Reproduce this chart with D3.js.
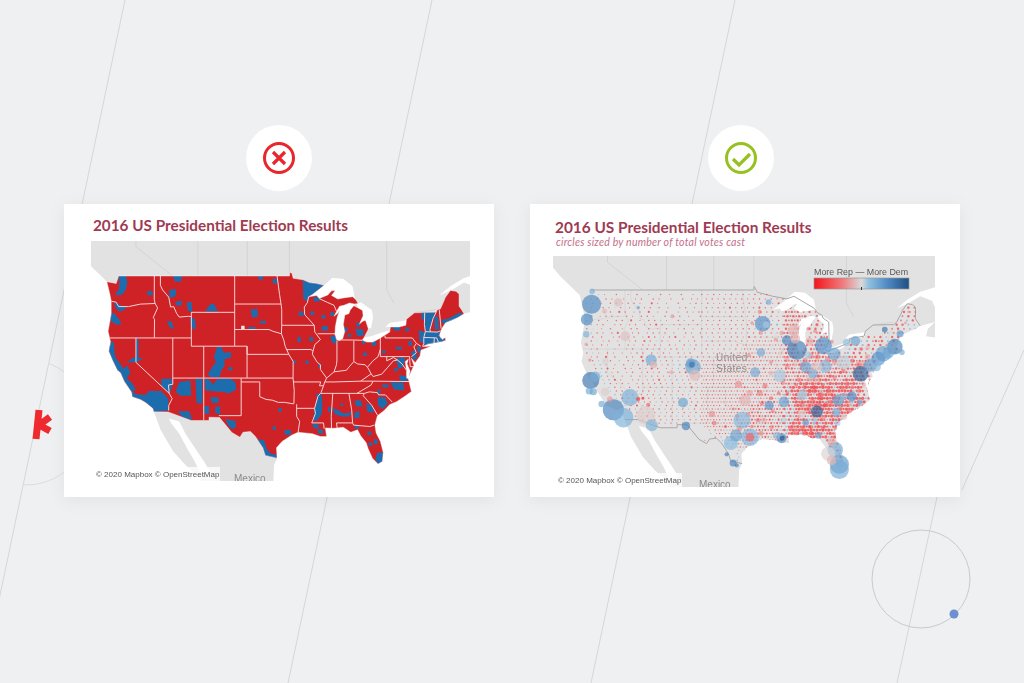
<!DOCTYPE html>
<html>
<head>
<meta charset="utf-8">
<title>2016 US Presidential Election Results</title>
<script src="https://cdn.jsdelivr.net/npm/d3@7"></script>
<style>
  html, body { margin: 0; padding: 0; background: #eff0f2; }
  svg { display: block; }
</style>
</head>
<body>
<script>
// ---- text ----
var chartTitle = "2016 US Presidential Election Results";
var chartSubtitle = "circles sized by number of total votes cast";
var attribution = "\u00a9 2020 Mapbox \u00a9 OpenStreetMap";
var legendLabel = "More Rep \u2014 More Dem";

// ---- coastlines and borders, lon/lat ----
var northBorder = [[-124.7,48.4],[-123.2,48.2],[-122.8,49],[-95.2,49],[-95.15,49.4],[-94.8,49.3],[-94.6,48.75],[-93,48.6],[-92,48.3],[-90.8,48.2],[-89.6,48],[-91.5,47],[-92.1,46.75],[-90.8,46.9],[-90.4,46.55],[-89,46.95],[-88.4,47.4],[-87.8,47.45],[-88.4,46.9],[-87.4,46.5],[-86.2,46.65],[-85,46.75],[-84.5,46.45],[-84.1,46],[-84.7,45.95],[-85.5,46.05],[-86.4,45.8],[-87.1,45.7],[-87.6,45.1],[-88,44.55],[-87.4,44.9],[-87.1,45.25],[-87.5,44.4],[-87.8,43.3],[-87.85,42.4],[-87.6,41.8],[-87.2,41.65],[-86.6,41.9],[-86.25,42.8],[-86.5,43.6],[-86.25,44.7],[-85.6,44.85],[-85.4,45.25],[-84.8,45.75],[-84.1,45.5],[-83.4,45.2],[-83.3,44.6],[-83.9,43.65],[-83.3,44],[-82.9,44.05],[-82.45,43.05],[-82.9,42.4],[-83.15,42.05],[-83.45,41.72],[-82.7,41.5],[-81.7,41.5],[-80.5,42],[-79,42.7],[-78.9,43.3],[-77.5,43.3],[-76.4,43.5],[-76.3,44.2],[-75,44.95],[-71.5,45],[-71.3,45.3],[-70.8,45.4],[-70.3,46.2],[-70,46.7],[-69.2,47.45],[-68.3,47.35],[-67.8,47.05],[-67.8,45.7],[-67.4,45.3]];
var atlanticCoast = [[-67,44.85],[-68,44.4],[-69,44.1],[-70,43.8],[-70.6,43.1],[-70.8,42.7],[-71,42.3],[-70.7,41.95],[-70.5,41.8],[-70.05,42.05],[-69.95,41.7],[-70.65,41.55],[-71.4,41.45],[-72.9,41.25],[-73.7,40.95],[-72.3,41],[-73.9,40.55],[-74,40.4],[-74.1,39.8],[-74.9,38.95],[-75.5,39.5],[-75.1,38.6],[-75.9,37.2],[-75.7,37.9],[-76.2,38.8],[-76,39.4],[-76.5,39.1],[-76.3,38],[-76.3,37],[-76,36.9],[-75.5,35.25],[-76.5,34.65],[-77.9,33.9],[-79,33.5],[-79.9,32.7],[-81,32],[-81.4,30.7],[-81.2,29.6],[-80.5,28.4],[-80.05,26.8],[-80.2,25.5],[-80.9,25.15],[-81.8,26],[-82.5,27.4],[-82.8,28.2],[-83.7,29.2],[-84.2,30.05],[-85.3,29.7],[-86.5,30.4],[-88,30.25],[-89.4,30.3],[-89.2,29.1],[-90.2,29.1],[-91.5,29.5],[-93.8,29.7],[-94.8,29.3],[-96.4,28.4],[-97.3,27.5],[-97.2,26]];
var mexicoBorder = [[-97.2,26],[-99.1,26.4],[-99.5,27.5],[-100.7,29.1],[-101.5,29.8],[-102.7,29.7],[-103.2,29],[-104.5,29.65],[-106.5,31.75],[-108.2,31.78],[-108.2,31.33],[-111.07,31.33],[-114.8,32.5],[-117.1,32.53]];
var pacificCoast = [[-117.1,32.53],[-117.3,33],[-118.4,33.75],[-119.2,34.15],[-120.6,34.55],[-120.7,35.15],[-121.9,36.6],[-122.5,37.7],[-123,38],[-123.8,39.3],[-124.4,40.4],[-124.1,41.5],[-124.5,42.8],[-124,44.8],[-124,46.3],[-124.2,47],[-124.7,48.4]];
var usOutline = northBorder.concat(atlanticCoast, mexicoBorder, pacificCoast);
var canadaBorder = [[-122.8,49],[-95.2,49],[-95.15,49.4],[-94.6,48.75],[-92,48.3],[-89.6,48],[-88.4,48.3],[-84.9,46.9],[-84.5,46.45],[-83.6,46.1],[-83.5,45.8],[-82.5,45.3],[-82.45,43.05],[-82.9,42.4],[-83.15,42.05],[-82.7,41.7],[-79,42.8],[-79,43.3],[-76.5,43.6],[-76.3,44.2],[-75,44.95],[-71.5,45],[-71,45.3],[-70.3,46.2],[-70,46.7],[-69.2,47.45],[-68.3,47.35],[-67.8,47.05],[-67.8,45.7],[-67,44.85]];
var provinceLines = [[[-120,53],[-120,52],[-114.05,49]],[[-110,55],[-110,49]],[[-102,55],[-102,49]],[[-95.2,53],[-95.2,49.4]],[[-79.5,53],[-79.5,47.5],[-78.3,46]],[[-71.5,45.3],[-74.8,45]]];

var waterAreas = [
  pacificCoast.concat([[-125,48.6],[-128,50.5],[-130,52],[-140,52],[-140,20],[-110,20],[-109.5,23],[-112,25],[-114,27],[-115,28.5],[-116,30]]),
  atlanticCoast.concat([[-97.7,25],[-97.8,22.5],[-97,20],[-60,20],[-60,43],[-66,43.6],[-65.7,44.5],[-64.5,45.3]]),
  [[-114.7,31.6],[-113,31.2],[-112,29.5],[-110.5,27.5],[-109,25.5],[-108,24],[-109.5,23.5],[-110.5,25.5],[-111.8,27.5],[-113,29.5],[-114.2,30.8]],
  [[-92.1,46.75],[-91.5,47],[-89.6,48],[-88.3,48.8],[-86.5,48.7],[-85,47.9],[-84.7,46.8],[-84.5,46.45],[-85,46.75],[-87.4,46.5],[-88.4,46.9],[-87.8,47.45],[-88.4,47.4],[-89,46.95],[-90.4,46.55],[-90.8,46.9]],
  [[-84.7,45.95],[-85.5,46.05],[-86.4,45.8],[-87.1,45.7],[-87.6,45.1],[-88,44.55],[-87.4,44.9],[-87.1,45.25],[-87.5,44.4],[-87.8,43.3],[-87.85,42.4],[-87.6,41.8],[-87.2,41.65],[-86.6,41.9],[-86.25,42.8],[-86.5,43.6],[-86.25,44.7],[-85.6,44.85],[-85.4,45.25],[-84.8,45.75]],
  [[-84.4,46],[-83.6,46.1],[-82.8,45.7],[-81.9,45.3],[-81.7,44.4],[-82,43.2],[-82.45,43.05],[-82.9,44.05],[-83.3,44],[-83.9,43.65],[-83.3,44.6],[-83.4,45.2],[-84.1,45.5]],
  [[-83.45,41.72],[-82.7,41.5],[-81.7,41.5],[-80.5,42],[-79,42.7],[-79.1,42.9],[-80.5,42.6],[-82,42.2],[-83.1,42.05]],
  [[-79.7,43.3],[-78.9,43.3],[-77.5,43.3],[-76.4,43.5],[-76.3,44.1],[-77.5,43.95],[-79,43.8]],
  [[-71,46.9],[-69.2,47.9],[-67,48.8],[-65,49.2],[-62,50],[-60,50.3],[-60,47],[-64,46.3],[-65,47.8],[-67,48.3],[-69,47.5]]
];

// ---- state boundaries, lon/lat ----
var stateLines = [
  [[-124,46.25],[-123.2,46.15],[-122.8,45.65],[-121.2,45.65],[-119.3,45.93],[-116.9,46]],
  [[-117.03,49],[-117.04,46.4],[-116.9,46],[-116.5,45.5],[-117.2,44.4],[-117,44.2],[-117.03,42]],
  [[-124.2,42],[-111.05,42]],
  [[-120,42],[-120,39],[-114.63,35],[-114.15,34.3],[-114.7,33.4],[-114.72,32.7]],
  [[-114.05,42],[-114.05,36.2],[-114.75,36.1],[-114.63,35]],
  [[-116.05,49],[-116.05,48],[-115.7,47.5],[-114.7,46.7],[-114.4,45.6],[-113.9,45.65],[-113.45,44.9],[-113,44.45],[-111.5,44.55],[-111.05,44.5]],
  [[-111.05,45],[-104.05,45]],
  [[-111.05,45],[-111.05,41],[-104.05,41]],
  [[-114.05,37],[-94.62,37]],
  [[-109.05,41],[-109.05,31.33]],
  [[-102.05,41],[-102.05,37]],
  [[-104.05,41],[-102.05,41],[-102.05,40],[-95.3,40]],
  [[-104.05,49],[-104.05,41]],
  [[-104.05,45.94],[-96.56,45.94]],
  [[-104.05,43],[-98.5,43],[-97.9,42.8],[-96.5,42.5]],
  [[-103,37],[-103,32],[-106.6,32]],
  [[-103,36.5],[-100,36.5],[-100,34.56],[-99,34.2],[-98,34.1],[-97,33.8],[-96,33.8],[-94.5,33.6]],
  [[-94.62,37],[-94.43,35.4],[-94.48,33.64]],
  [[-94.04,33.55],[-94.04,31.9],[-93.55,31.2],[-93.8,29.7]],
  [[-94.04,33],[-91.15,33]],
  [[-97.2,49],[-96.8,47],[-96.56,45.94],[-96.45,45.3],[-96.45,43.5],[-96.5,42.5],[-96.1,41.7],[-95.9,41],[-95.3,40],[-94.6,39.1],[-94.62,37]],
  [[-96.45,43.5],[-91.2,43.5]],
  [[-95.77,40.58],[-91.73,40.6],[-91.4,40.4]],
  [[-94.62,36.5],[-90.15,36.5],[-90.35,36],[-89.7,36]],
  [[-92.1,46.75],[-92.3,46.1],[-92.8,45.6],[-92.75,44.75],[-91.2,43.5],[-91.1,42.7],[-90.2,41.8],[-91.1,41.2],[-91.4,40.4],[-91.5,40],[-90.7,39],[-90.2,38.7],[-90.2,38.1],[-89.2,37],[-89.5,36.5],[-89.7,36],[-90.1,35.1],[-90.6,34.6],[-91.15,33],[-91,32.3],[-91.6,31],[-89.7,31],[-89.6,30.2]],
  [[-90.65,42.5],[-87.8,42.5]],
  [[-90.4,46.55],[-89,46.1],[-88,45.8],[-87.6,45.1]],
  [[-87.53,41.7],[-87.53,39.3],[-87.6,38.7],[-88,37.8]],
  [[-89.2,37],[-88,37.8],[-87,37.9],[-86,38],[-85.7,38.3],[-84.8,39.1],[-84.2,38.8],[-83,38.7],[-82.6,38.4],[-81.7,39.2],[-80.9,39.7],[-80.52,40.6]],
  [[-84.8,41.7],[-84.8,39.1]],
  [[-87.2,41.76],[-84.8,41.75],[-83.45,41.72]],
  [[-80.52,42],[-80.52,39.72],[-75.8,39.72]],
  [[-82.6,38.4],[-82,37.55],[-81.7,37.2],[-80.3,37.5],[-79.3,38.4],[-78.4,39.2],[-77.75,39.3],[-77,38.8],[-76.3,38]],
  [[-79.48,39.72],[-79.48,39.2],[-78.4,39.6],[-77.75,39.3]],
  [[-89.5,36.5],[-88,36.5],[-83.7,36.6],[-81.7,36.6],[-75.9,36.55]],
  [[-83.7,36.6],[-82,37.55]],
  [[-90.1,35],[-84.3,35],[-83.1,35]],
  [[-81.7,36.6],[-82,36.1],[-84.3,35]],
  [[-88.2,35],[-88.45,31.9],[-88.4,30.3]],
  [[-85.6,35],[-85.15,32.8],[-85,31],[-84.85,30.7],[-82.2,30.5],[-81.5,30.7]],
  [[-87.5,30.3],[-87.6,31],[-85,31]],
  [[-83.1,35],[-83.3,34.7],[-81.9,33.4],[-81,32.1]],
  [[-83.1,35],[-82.3,35.2],[-81,35.1],[-80.8,34.8],[-79.7,34.8],[-78.6,33.85]],
  [[-79.76,42.27],[-79.76,42],[-75.35,42],[-74.7,41.35],[-74,41]],
  [[-74.7,41.35],[-75.1,40.9],[-74.7,40.2],[-75.5,39.7]],
  [[-75.8,39.72],[-75.7,38.46],[-75.05,38.46]],
  [[-73.35,45],[-73.4,43.6],[-73.25,42.75],[-73.5,42.05],[-73.5,41.3],[-73.7,41]],
  [[-73.25,42.75],[-71.3,42.7],[-70.8,42.85]],
  [[-71.5,45],[-72,44.3],[-72.5,43],[-72.45,42.73]],
  [[-71,45.3],[-70.7,43.1]],
  [[-73.5,42.05],[-71.8,42.02],[-71.4,42],[-71.15,41.5]],
  [[-71.8,42.02],[-71.85,41.3]]
];

// ---- left map: areas that went Democrat, lon/lat ----
var blueAreas = [
  [[-122.8,49],[-121.6,49],[-121.4,48.3],[-121.6,47.6],[-122.2,47],[-123,46.9],[-123.3,47.1],[-122.7,47.6],[-122.7,48.4]],
  [[-123.5,46.2],[-122.2,45.7],[-121.6,45.7],[-121.8,45.3],[-122.7,45.1],[-123.3,45.5]],
  [[-124.2,44.9],[-123.5,44.9],[-122.6,44.1],[-122.4,43.6],[-123.2,43.6],[-124.1,44]],
  [[-118.3,47.3],[-117.6,47.4],[-117.1,47],[-118,46.9]],
  [[-114,49],[-112.5,49],[-112.8,48.4],[-113.7,48.4]],
  [[-114.6,47.5],[-113.5,47.6],[-113.6,46.8],[-114.6,46.6]],
  [[-113.6,46.2],[-112.6,46.3],[-112.6,45.8],[-113.5,45.8]],
  [[-111.8,46.1],[-111,46.2],[-110.9,45],[-111.6,45.2]],
  [[-108.9,45.1],[-108,45.9],[-107.4,46],[-106.8,45.1]],
  [[-100.2,49],[-99.5,49],[-99.5,48.6],[-100.2,48.6]],
  [[-97.9,48.7],[-97.2,48.7],[-97.2,48.2],[-97.9,48.2]],
  [[-101.5,45.3],[-100.4,45.4],[-100.3,44.5],[-101.2,44.4]],
  [[-100,44],[-99,44],[-99,43.7],[-100,43.7]],
  [[-101.8,43.3],[-100.7,43.3],[-100.7,43],[-101.8,43]],
  [[-115,44],[-114.2,43.9],[-113.9,43.1],[-114.5,43.2]],
  [[-111.3,44.3],[-110.5,44.3],[-110.3,43.1],[-111,43.1]],
  [[-120,41.9],[-119.6,41.9],[-119.6,39.6],[-118.9,39.5],[-119.9,39],[-121.5,39],[-120.4,39.6],[-120,39.6]],
  [[-124.3,41.5],[-123.6,41.5],[-123.4,40],[-123.3,39.6],[-122.7,39],[-122,38.2],[-121.4,38.6],[-120.9,37.7],[-121.5,37],[-120.6,36.3],[-120,35.5],[-120.7,35.15],[-121.9,36.6],[-122.5,37.7],[-123,38],[-123.8,39.3],[-124.4,40.4]],
  [[-120.7,35.2],[-119.8,34.9],[-118.5,34.8],[-117.9,35.3],[-116,35.3],[-115.4,34.9],[-114.8,34.3],[-114.7,32.7],[-117.1,32.5],[-117.3,33],[-118.4,33.75],[-119.2,34.15],[-120.6,34.55]],
  [[-115.9,36.9],[-114.1,36.9],[-114.1,36],[-114.6,35],[-115.9,36]],
  [[-113.6,35.2],[-113,36.5],[-111.2,36.7],[-111.1,34.7],[-112.8,34.7]],
  [[-110.4,36.9],[-109.3,36.9],[-109.3,33.7],[-110.2,33.7]],
  [[-108.9,36.9],[-108.4,36.9],[-107.5,36.2],[-106.8,36.9],[-104.7,36.9],[-103.9,36.4],[-103.8,35.5],[-105,35],[-106,35.2],[-107,35.2],[-108.8,35.4]],
  [[-108,34.5],[-106.7,34.5],[-106.6,33.8],[-107.7,33.7]],
  [[-109,33.3],[-108.2,33.3],[-108.2,32.2],[-108.9,32.3]],
  [[-107.2,33.2],[-106.4,33.2],[-106.4,32.2],[-107.2,32.4]],
  [[-113.3,32.6],[-111.4,32.6],[-110.9,31.4],[-112.5,31.8]],
  [[-106.9,40.9],[-106.2,40.9],[-105.8,40.2],[-104.7,40.3],[-104.6,39.6],[-105.7,39.4],[-105.7,38.5],[-106.2,38],[-106.5,37.1],[-107.9,37.1],[-108.4,37.5],[-107.7,38.4],[-107.1,39],[-107.4,39.7]],
  [[-105.1,38.4],[-104.4,38.4],[-104.4,38],[-105.1,38]],
  [[-105.5,31.5],[-104,31.3],[-103.8,30.5],[-104.5,30.1],[-105.2,30.8]],
  [[-100.5,28.7],[-99.3,28.6],[-98.9,27.4],[-98.3,26.7],[-97.3,26.5],[-97.2,26],[-99.1,26.4],[-99.5,27.5],[-100.3,28.4]],
  [[-97.9,30.5],[-97.4,30.5],[-97.4,30],[-97.9,30]],
  [[-97,33],[-96.5,33],[-96.5,32.5],[-97,32.5]],
  [[-96,30],[-95,30],[-95,29.3],[-96,29.4]],
  [[-93.1,48.6],[-92,48.3],[-90.8,48.2],[-89.6,48],[-91.5,47],[-92.1,46.75],[-92.4,46.2],[-93,46.6],[-93,47.6]],
  [[-93.7,45.1],[-93,45.1],[-92.9,44.6],[-93.7,44.6]],
  [[-91.4,46.7],[-90.2,46.7],[-90.2,46.3],[-91.2,46.2]],
  [[-91.8,45.1],[-91.2,45.1],[-91.2,44.7],[-91.8,44.7]],
  [[-90,44.7],[-89.4,44.7],[-89.4,44.3],[-90,44.3]],
  [[-88.6,45],[-88,45],[-88,44.6],[-88.6,44.6]],
  [[-90,43.4],[-89,43.4],[-89,42.9],[-90,42.9]],
  [[-88.6,42.2],[-87.7,42.3],[-87.55,41.4],[-88.3,41.4]],
  [[-93.9,42.1],[-93.4,42.1],[-93.4,41.5],[-93.9,41.5]],
  [[-92,42.1],[-91.4,42.1],[-91.4,41.6],[-92,41.6]],
  [[-86.4,43.2],[-85.8,43.2],[-85.8,42.8],[-86.4,42.8]],
  [[-84.6,43.1],[-83.3,43],[-83.2,42.3],[-84.2,42.2]],
  [[-85.8,42.5],[-85.3,42.5],[-85.3,42.1],[-85.8,42.1]],
  [[-84.4,43.8],[-83.8,43.8],[-83.8,43.4],[-84.4,43.4]],
  [[-83.5,41.7],[-83,41.7],[-83,41.3],[-83.5,41.3]],
  [[-83.3,40.2],[-82.7,40.2],[-82.7,39.8],[-83.3,39.8]],
  [[-81.9,41.6],[-81.2,41.6],[-81.2,41.1],[-81.9,41.1]],
  [[-78.1,40.9],[-77,40.9],[-77,40.6],[-78,40.6]],
  [[-80.2,40.5],[-79.7,40.5],[-79.7,40.1],[-80.2,40.1]],
  [[-76,41.6],[-75.4,41.6],[-75.4,41.1],[-76,41.1]],
  [[-75.6,40.3],[-74.9,40.5],[-74.5,39.5],[-75.2,39.3]],
  [[-74.6,41],[-74,41],[-74,40.2],[-74.5,40.2]],
  [[-78.5,43.3],[-77.3,43.3],[-77.3,42.9],[-78.3,42.9]],
  [[-76.5,43.2],[-75.9,43.2],[-75.9,42.8],[-76.5,42.8]],
  [[-73.9,45],[-73.35,45],[-73.4,44.2],[-73.9,44.2]],
  [[-74.3,43],[-73.3,42.6],[-73.6,41.4],[-74.2,41.6]],
  [[-73.4,45],[-71.5,45],[-72,44.3],[-72.5,43],[-72.45,42.7],[-73.25,42.75],[-73.4,43.6]],
  [[-73.4,42.75],[-71.2,42.8],[-70.8,42.5],[-71,42.1],[-70,41.9],[-70.5,41.5],[-71.4,41.4],[-73.5,41.1],[-73.6,42]],
  [[-71.8,44.5],[-71.2,44.5],[-71,43],[-71.7,43]],
  [[-70.7,44.1],[-69.5,44.3],[-68.5,44.7],[-67.5,45],[-67.3,44.7],[-69,44],[-70.2,43.6]],
  [[-78,39.4],[-77,39.7],[-76.5,39.4],[-76.9,38.4],[-77.6,38.2]],
  [[-78.3,38.3],[-77.7,38.3],[-77.7,37.9],[-78.3,37.9]],
  [[-77.5,37.4],[-76.2,37.2],[-76.1,36.55],[-77.3,36.6]],
  [[-80.2,36.2],[-79.2,36.2],[-79.2,35.8],[-80.2,35.8]],
  [[-78.9,36.5],[-76.8,36.4],[-76.7,35.4],[-78.3,35.5]],
  [[-81,35.5],[-80.5,35.5],[-80.5,35],[-81,35]],
  [[-81,34.5],[-79.8,34.5],[-79.3,33.7],[-80.1,32.9],[-80.9,33.4]],
  [[-84.6,34.1],[-83.7,34.1],[-83.4,33.2],[-84.5,33.3]],
  [[-82.8,33.7],[-81.9,33.4],[-81.5,32.4],[-82.6,32.5]],
  [[-84.6,32.5],[-83.9,32.6],[-83.9,31.7],[-84.8,31.7]],
  [[-88.4,33],[-87.4,32.8],[-86.5,32.3],[-85.5,32.4],[-85,32.4],[-85.6,31.9],[-86.7,31.9],[-87.8,32.2]],
  [[-86.9,33.7],[-86.5,33.7],[-86.5,33.3],[-86.9,33.3]],
  [[-90.9,35],[-90,34.9],[-89.9,33.8],[-89.9,33],[-90,32.2],[-90.9,31.2],[-91.4,31.5],[-91.1,33],[-90.7,34.2]],
  [[-88.9,33.2],[-88.6,33.2],[-88.6,32.5],[-89,32.5]],
  [[-91.5,30.9],[-90.5,30.8],[-90.5,30.2],[-91.3,30.3]],
  [[-90.7,30.1],[-89.8,30.1],[-89.8,29.5],[-90.5,29.5]],
  [[-94.6,39.3],[-94.2,39.3],[-94.2,38.9],[-94.6,38.9]],
  [[-90.5,38.8],[-90,38.8],[-90.3,38.4],[-90.6,38.4]],
  [[-92.6,39.2],[-92.1,39.2],[-92.1,38.8],[-92.6,38.8]],
  [[-84.7,30.7],[-84,30.7],[-84,30.2],[-84.6,30.2]],
  [[-82.6,29.8],[-82,29.8],[-82,29.3],[-82.6,29.3]],
  [[-82.5,28.2],[-81.8,28.2],[-81.8,27.8],[-82.4,27.8]],
  [[-81.6,28.7],[-81,28.7],[-81,28],[-81.5,28]],
  [[-81,26.8],[-80.05,26.8],[-80.2,25.5],[-80.9,25.15],[-81.3,25.8]]
];
var noDataAreas = [[[-103,43.45],[-102.45,43.45],[-102.45,43],[-103,43]]];

// ---- right map: county dots on the county raster ----
// [lat, first lon, cells]; each cell is half a degree, '.' is no county read there
var westVotes = {2:9, 3:16, 4:36, 5:60, a:10, b:18, c:30, d:60, g:30};
var plainsVotes = {2:9, 3:17, 4:32, a:12, b:22, c:40};
var eastVotes = {2:22, 3:42, 4:80, 5:130, a:22, b:40, c:70, d:110, g:40};
var cellMargin = {2:-0.75, 3:-0.8, 4:-0.85, 5:-0.9, a:0.3, b:0.3, c:0.25, d:0.25, g:0};
var countyRows = [
  [48.5,-124,"..a..a.2...3...2..3...2...3..2...3...2.."],[48,-123.75,"..a.b..3.2...2...2.3...3.2...2...3..2.2."],
  [47.5,-124,".a.b..2..3.4.2.3.3.2...4.2..2...3...2.3."],[47,-123.75,"..a...3.2.g.3..2..3.2.3..3..2...2.3..2.."],
  [46.5,-124,"..2.g..2.3..4.3..2.3..4..2..3...2..3.2.3"],[46,-123.75,"..d..2.3.3.2..3.2..3.3.2...3..2.3..2...3"],
  [45.5,-124,".2.a.3..2..3.3..4..2..3.3.a.2...3.2..3.."],[45,-123.75,"..b.2.3...2.3..2.3..2.3.4.3...2.3..2..3."],
  [44.5,-124,".3.g..2..3...2..3.3...3..2..3...2.3..2.."],[44,-123.75,"..a.3.2..3.4..g.2.3..2.3.2.3..2...3.2..3"],
  [43.5,-124,".2.3..3...2.3..3.3..2.4.3..2.3.4..2..3.."],[43,-123.75,"..3.g.2.3..2...2.3..4.3.a.3.2...3..2.3.."],
  [42.5,-124,".3.2..3.2...3..3.2..3.2.3.2..3.2..3.2.3."],[42,-123.75,"..2.3..g..2...2.3..2.3.2.3.2.3.3.2.a.3.."],
  [41.5,-124,".3.a.2..3.2..2..2.3.3..3.2.3.2..3.2.3..."],[41,-123.75,"..2.3..4..3...3.2..4.3.a.3.3.2..2.3.2.3."],
  [40.5,-124,"...3.a.2.3..2..3.2..4.a.3.2.3.2.b.g.3.2."],[40,-123.75,"...2.b.3..2..3..2.3..3..3.2.3.a.c.3.2.3."],
  [39.5,-124,"....3.b.4.2...3.2..3.2.4.3..2.a.b.3.2..3"],[39,-123.75,".....a.c.2.3..2.3..2.3.2.3..3.2.3.4.3.2."],
  [38.5,-124,"......b.3.3..2..3..3.2.3.3.2.3.2.a.3.2.3"],[38,-123.75,"......a.b.4.2...2.3..2.3.4.2.a.3.2.3..2."],
  [37.5,-124,".......a.3.2.3.2..2.3.2.3.3.2.3.a.2.3.2."],[37,-123.75,"........a.3.2..3..3.2.3.2.3.2.a.3.2.4.2."],
  [36.5,-124,".........a.3.3.2..2.3.3.2.a.3.2.3.a.b.3."],[36,-123.75,"..........b.3.2.3..3.2.3.a.3.2.a.3.a.3.2"],
  [35.5,-124,"...........a.4.3.2..5.3.2.3.a.b.3.a.3.2."],[35,-123.75,"............a.3.2.3.2.3.a.3.2.3.2.a.3.3."],
  [34.5,-124,"..............a.3.4.2.3.2.a.3.2.a.3.2.4."],[34,-123.75,"...............3.2.3.2.3.3.2.3.2.3.a.3.2"],
  [33.5,-124,"................a.3.2.3.3.a.2.3.a.3.2.3."],[33,-123.75,".................3.2.4.2.3.2.3.a.2.3.a.3"],
  [32.5,-124,"..................b.3.2.3.3.a.3.2.a.3.2."],[32,-123.75,"...................3.2.a.3.2.3.2.3.2.3.2"],

  [48.5,-104,"3.2.3.2.2.3.2.3.2.3.2.3.3.3."],[48,-103.75,".2.3.2.3.2.2.3.2.3.3.2.3.2.3"],
  [47.5,-104,"2.3.2.2.3.2.3.2.3.2.3.3.2.4."],[47,-103.75,".3.2.3.2.4.2.3.2.3.4.3.2.3.2"],
  [46.5,-104,"3.2.2.3.2.3.2.3.3.2.3.3.4.2."],[46,-103.75,".2.3.2.2.3.2.3.2.3.3.2.3.2.3"],
  [45.5,-104,"2.3.2.3.2.3.2.3.2.3.2.3.a.3."],[45,-103.75,".2.2.3.2.2.3.2.3.2.2.3.3.c.3"],
  [44.5,-104,"3.2.2.3.2.3.2.3.3.2.3.3.3.3."],[44,-103.75,".2.3.2.3.2.3.2.2.3.3.2.3.2.3"],
  [43.5,-104,"3.a.2.3.2.3.3.2.4.3.3.3.2.a3"],[43,-103.75,".2.3.2.2.3.2.3.2.3232323232b"],
  [42.5,-104,"2.3.2.3.2.2.3.23232323232323"],[42,-103.75,".3.2.2.3.2.3.2323232323a3232"],
  [41.5,-104,"3.2.2.3.2.3.232323232323a323"],[41,-103.75,"2.3.2323232323232423232323232"],
  [40.5,-104,"32323232323232323232323232323"],[40,-103.75,"23232323232323232323232323232"],
  [39.5,-104,"32323232323232323232a4232323"],[39,-103.75,"23232323232323232324232a3232"],
  [38.5,-104,"32323232323232323232323a2323"],[38,-103.75,"23232323232323232342323232a3"],
  [37.5,-104,"323232323232323a232323232323"],[37,-103.75,"23232323232323432323232a2323"],
  [36.5,-104,"32323232323232323234323232a3"],[36,-103.75,"23232323232323423232343232323"],
  [35.5,-104,"32323232323234323a32323232a3"],[35,-103.75,"23232323232323232323434343a3"],
  [34.5,-104,"3232323.32323232343432343a34"],[34,-103.75,"2323232323234232343434343433"],
  [33.5,-104,"3232323232323a3234343a343434"],[33,-103.75,"232323232323232a343434343a34"],
  [32.5,-104,"3232323a3232423a343434343a43"],[32,-103.75,"23232323232a3434343b34343434"],
  [31.5,-104,".2323232323a34343a3434a34343"],[31,-103.75,"..2.3232a23232343a34343434a3"],
  [30.5,-104,"...a.2323a3234343434a3434343"],[30,-103.75,"....3.a.323a3b3a343a343a3434"],
  [29.5,-104,".2.2...a.a3b3a34343a34343434"],[29,-103.75,"........a.2a3a3a3434..3434.."],
  [28.5,-104,"..........a.a3a3.a...3.3a3.."],[28,-103.75,"............a.a3a............"],
  [27.5,-104,"............a.3a.a..........."],[27,-103.75,"............a.a.b..........."],
  [26.5,-104,"............b.a.a..........."],[26,-103.75,"..............b.b.a........."],

  [47,-90,"2.3.2.2.................................2.3.2"],[46.5,-89.75,"32323.2.3.2.2...........................3.2.3"],
  [46,-90,"23232323.2.3.3..........................2.3.2"],[45.5,-89.75,"3232323232.3.2.2.......................2.a.3.2"],
  [45,-90,"23232a2323.3.2323.....................3.3.a.a."],[44.5,-89.75,"32a2323.3.3.2.32323.................2.3.2.a.b."],
  [44,-90,"232323.a.2.232323232..............2a.3.2b.a..."],[43.5,-89.75,"3232323.2.2.3232323.......2.3.2.3.a.3.3.a.b.."],
  [43,-90,"2a2c2.3.323232a232........a.b.2323.a.3.a.c.a.."],[42.5,-89.75,"32c4a3.3.23232a2b2....3.2.b.3.2.3.2.a.a.b.c..."],
  [42,-90,"23a3a..3.3232a2323....a.3.3.2.3.2.3.a.3.c.d..."],[41.5,-89.75,"3232b.3.2323a3232a3.2b.3.3.2.a.3.a.2.b.b.a...."],
  [41,-90,"23232.a.23232323a2323b323.3.2.3.2.a.b.c......."],[40.5,-89.75,"32323a3232323a2323232a2323232.3.2.a.b.c.d....."],
  [40,-90,"232323232a3234232a2323a3232323.3.a.3.c........"],[39.5,-89.75,"3232a323232323232323a3232323232.3.2.a.b.c....."],
  [39,-90,"2323232343232a23232423a2323.3.2a.b.c.a.3......"],[38.5,-89.75,"32a23232a234323432323a3232323.a.a.3.a.3......."],
  [38,-90,"3232323243434343232a3434323232.a.b.3.2........"],[37.5,-89.75,"23a3243434343a3434343434323.3.2.a.3.a........."],
  [37,-90,"3a342424345434343a343434343.3.2.3.a.b........."],[36.5,-89.75,"3a4343435343b3434343434a343.3.a.3.b.a........."],
  [36,-90,"a3a3434343a3534343b34343a3.3.a.3.b.a.........."],[35.5,-89.75,"3a34343a34345343434343b3434a3.b.a.3..........."],
  [35,-90,"c3a34343434343b3434a343b3434.a.3.b............"],[34.5,-89.75,"a3a343a3434b3534343434b34a3.3.a.3............."],
  [34,-90,"3a3a34343b3434343c343434a3434.a.3............."],[33.5,-89.75,"a3a343434343b3434c3434a3434a3.3..............."],
  [33,-90,"3a3a34b3a34343434343a34343a3.a................"],[32.5,-89.75,"a3a34343b3c343a3434b3a34343a3................."],
  [32,-90,"3a3434a3b3c4b3434a343a34343.................."],[31.5,-89.75,"a34343434a34343a3434343a34..................."],
  [31,-90,"3a343434343434343a343a34....................."],[30.5,-89.75,"a3434a3434343a3434343a3...................."],
  [30,-90,"b3a343434343434a34a3434...................."],[29.5,-89.75,"..............3a3.3"],
  [29,-90,"...............a3a3"],[28.5,-89.75,"...............3.a.a"],
  [28,-90,"................a.3a"],[27.5,-89.75,"................g.a.2"],
  [27,-90,".................2.3.2"],[26.5,-89.75,".................3.a.3"],
  [26,-90,"..................a.a"]
];

// ---- right map: mid-size counties, [lon, lat, votes in thousands, margin] ----
var midCounties = [
  [-96,41.2,120,-0.4],[-95.9,36.2,300,-0.3],[-94.2,36.2,260,-0.5],[-93.3,37.2,200,-0.6],[-92.3,38.9,160,-0.25],
  [-90.3,37.6,150,-0.6],[-89.5,39.8,180,-0.4],[-88.2,40.1,200,-0.1],[-89.6,40.7,180,-0.3],[-87.5,38,180,-0.5],
  [-86.6,37.1,160,-0.6],[-85.7,38.2,500,-0.1],[-84.5,38,300,-0.15],[-83.5,37.3,120,-0.8],[-85,36.5,200,-0.6],
  [-86.8,36.2,600,0.1],[-83.9,36,350,-0.4],[-82.5,36.5,220,-0.6],[-85.3,35,250,-0.5],[-87,34.6,260,-0.6],
  [-85.9,34,200,-0.7],[-84.2,34.6,260,-0.75],[-83,34.6,180,-0.7],[-82.4,34.8,320,-0.45],[-81.6,35.7,180,-0.6],
  [-80.2,36.9,180,-0.55],[-79.4,37.4,160,-0.5],[-78.5,37,120,-0.3],[-81.5,38.3,150,-0.5],[-80,39.2,130,-0.7],
  [-81.5,40.4,240,-0.4],[-82.7,40.6,230,-0.55],[-84.4,41,200,-0.55],[-85.5,41.1,220,-0.5],[-86.5,40.6,180,-0.55],
  [-87,40,160,-0.6],[-85,40,120,-0.5],[-88,37.3,90,-0.7],[-89.5,36.2,100,-0.7],[-91,36.2,100,-0.7],
  [-92.3,35.5,130,-0.7],[-93.8,34.8,130,-0.7],[-92,33.7,100,-0.6],[-93.5,32.4,260,-0.2],[-92.2,31.4,130,-0.5],
  [-90.2,32.4,260,0.1],[-89,31.2,180,-0.55],[-88.1,30.8,300,-0.45],[-86.6,30.6,260,-0.7],[-85.5,30.5,180,-0.75],
  [-87,31.2,110,-0.7],[-85.5,31.4,130,-0.75],[-83.5,31.2,110,-0.7],[-83.5,32.7,170,-0.35],[-84.9,32.5,130,0.1],
  [-81.4,31.3,120,-0.5],[-81,32,260,0.2],[-79.9,32.9,300,-0.15],[-79,33.8,240,-0.55],[-80.5,34.1,180,-0.4],
  [-77.5,34.7,120,-0.6],[-78.9,34.8,200,-0.2],[-77.5,36.5,110,-0.3],[-76.5,37.3,170,-0.2],[-90.5,44,150,-0.35],
  [-91.5,43.2,100,-0.4],[-90.5,41.5,170,-0.1],[-92.3,40.3,100,-0.5],[-94,44,130,-0.4],[-95.5,45.2,90,-0.5],
  [-94.2,46.5,130,-0.55],[-88,44.8,240,-0.2],[-86,44.5,80,-0.5],[-84.8,44.2,110,-0.5],[-84.5,45,90,-0.55],
  [-85.8,42.9,500,-0.25],[-82,42.9,120,-0.5],[-75.9,42.2,180,-0.2],[-77,42,130,-0.4],[-75.9,41,250,-0.3],
  [-76.7,40.1,330,-0.3],[-78.5,40.5,170,-0.6],[-77.5,40,200,-0.55],[-71.5,44,110,0],[-69.5,45.2,60,-0.4],
  [-69,46.5,40,-0.5],[-100,31.5,70,-0.8],[-98,33,130,-0.6],[-96.2,33.2,170,-0.5],[-94.5,32.4,150,-0.5],
  [-94,30.5,170,-0.55],[-97.7,31.2,200,-0.4],[-101.9,32,180,-0.6],[-98.7,34,60,-0.7],[-95.5,31.5,100,-0.6],
  [-118.2,47.7,300,-0.1],[-120.5,46.6,190,-0.2],[-109,46,120,-0.4],[-109.2,39,120,-0.3],[-123.6,42.6,100,-0.3],
  [-123,40.6,80,-0.55]
];

// ---- right map: large counties, [lon, lat, votes in thousands, margin] ----
var bigCounties = [
  [-122.6,48.85,240,0.25],[-122.7,47.4,2750,0.55],[-123.5,45.6,1090,0.55],[-123.6,43.85,305,0.25],
  [-122.1,38.4,850,0.3],[-122.85,37.9,2180,0.7],[-123.1,36.5,380,0.3],[-122.4,36.4,380,0.35],
  [-120.4,36.4,545,-0.05],[-121,34.7,305,0.3],[-119.6,35.4,240,-0.25],[-116.2,35.6,2180,0.25],
  [-119,33.9,3400,0.6],[-117.3,32.8,2960,0.25],[-114.8,35.4,136,-0.8],[-113.1,34.6,136,-0.5],
  [-113.5,33.1,2750,-0.05],[-112.5,31.7,1090,0.25],[-106.7,31.6,545,0.6],[-107.2,34.9,740,0.35],
  [-105.5,39.7,1830,0.35],[-105.9,40.2,740,0.4],[-105.2,38.6,970,-0.12],[-105.7,40,240,0.7],
  [-112.6,40.6,970,0.3],[-112.2,40,380,-0.15],[-117,43.6,740,-0.1],[-118.2,47.6,545,-0.08],
  [-120.4,40.4,380,-0.02],[-114.8,47,95,0.3],[-93.7,45.1,1830,0.5],[-93.1,45,305,0.1],
  [-92.7,47.65,240,0.3],[-89.6,43.1,740,0.55],[-88.2,43.3,740,-0.15],[-88.5,44.3,970,-0.15],
  [-87.9,41.9,2960,0.65],[-83.4,42.4,2180,0.5],[-81.6,41.4,1225,0.35],[-80,40.3,1510,0.05],
  [-83.1,39.8,1225,0.2],[-84.5,39.7,740,-0.05],[-86.4,39.7,970,0.35],[-85.2,38.8,740,0.25],
  [-86,41.2,380,0.1],[-78,43,740,0.35],[-79.5,42.8,380,0.15],[-77.1,38.8,1830,0.85],
  [-75.5,39.9,1225,0.4],[-74.1,40.75,1510,0.45],[-73.25,41.4,1830,0.35],[-71.3,42.3,1830,0.6],
  [-72.4,41.5,970,0.35],[-70.4,43.9,380,0.4],[-73,44.4,240,0.7],[-70.1,41.6,240,0.3],
  [-74.4,39.7,545,0.2],[-90.8,38.55,1225,0.1],[-94,41.6,545,0.3],[-95,39,740,0.3],
  [-87.1,35.85,740,0.1],[-84.5,33.65,1090,0.85],[-80.9,35.2,970,0.4],[-78.6,35.75,740,0.5],
  [-80,35.7,380,0.2],[-77.2,35,240,0.3],[-87.1,33.3,545,-0.02],[-90.1,35,850,0.35],
  [-92.6,34.5,640,0.45],[-81.2,33.5,545,0.25],[-86.4,32.1,305,0.4],[-97.2,32.4,2180,0.2],
  [-96.7,35.2,970,-0.15],[-98.2,30.2,1090,0.35],[-95.85,29.95,2360,0.22],[-95.85,29.95,545,-0.55],
  [-99.1,29.1,1510,0.2],[-98.7,26.1,380,0.6],[-98.1,25.75,136,0.6],[-99.8,27.4,136,0.65],
  [-90.5,29.8,740,0.55],[-91.3,30.2,380,0.2],[-90.4,29.8,185,0.9],[-84.3,30.2,305,0.35],
  [-82,29.3,545,-0.2],[-81.4,28.1,1830,0.3],[-82.6,27.5,1510,-0.02],[-82,26.5,740,-0.15],
  [-80.7,25.9,2750,0.4],[-80.7,25.1,2750,0.3],[-102.3,33.3,305,-0.3],[-97.8,37.4,380,-0.3]
];

// ---- colour legend stops ----
var marginStops = [-1, -0.4, 0, 0.15, 0.5, 1];
var marginColors = ["#f5141c", "#f07a7c", "#d9d9d9", "#90c0e0", "#5590c8", "#1f4e85"];

// ---- page layout ----
var width = 1024, height = 683;
var svg = d3.select("body").append("svg").attr("width", width).attr("height", height);
var defs = svg.append("defs");

svg.append("rect").attr("width", width).attr("height", height).attr("fill", "#eff0f2");

var soft = defs.append("filter").attr("id", "soft").attr("x", "-2%").attr("y", "-2%").attr("width", "104%").attr("height", "104%");
soft.append("feGaussianBlur").attr("stdDeviation", 0.4);
var shade = defs.append("filter").attr("id", "shade").attr("x", "-10%").attr("y", "-10%").attr("width", "120%").attr("height", "120%");
shade.append("feDropShadow").attr("dx", 0).attr("dy", 3).attr("stdDeviation", 8).attr("flood-color", "#000").attr("flood-opacity", 0.06);

// background decoration
var pageLines = [[125,0,-1,600],[432,0,288,683],[735,0,591,683],[1024,350,962,490],[937,497,897,683]];
svg.selectAll(".pageline").data(pageLines).join("line").attr("class", "pageline")
  .attr("x1", function(d){ return d[0]; }).attr("y1", function(d){ return d[1]; })
  .attr("x2", function(d){ return d[2]; }).attr("y2", function(d){ return d[3]; })
  .attr("stroke", "#d5d6d9").attr("stroke-width", 1);
svg.append("path").attr("d", "M48,363A63,63 0 0 1 23,485").attr("fill", "none").attr("stroke", "#dcdde0");
svg.append("circle").attr("cx", 921).attr("cy", 579).attr("r", 49).attr("fill", "none").attr("stroke", "#c9cacd");
svg.append("circle").attr("cx", 954).attr("cy", 614).attr("r", 4.5).attr("fill", "#6f8fce");
svg.append("path").attr("d", "M39,410L36,439M39,425L50,417M39,425L50,431")
  .attr("stroke", "#ee2a2e").attr("stroke-width", 7).attr("fill", "none");

// verdict badges
svg.append("circle").attr("cx", 279).attr("cy", 158).attr("r", 33).attr("fill", "#fff");
svg.append("circle").attr("cx", 741).attr("cy", 158).attr("r", 33).attr("fill", "#fff");
svg.append("circle").attr("cx", 279).attr("cy", 158).attr("r", 14.5).attr("fill", "none").attr("stroke", "#e8262c").attr("stroke-width", 3);
svg.append("path").attr("d", "M273,152L285,164M285,152L273,164").attr("stroke", "#e8262c").attr("stroke-width", 3.2).attr("fill", "none");
svg.append("circle").attr("cx", 741).attr("cy", 158).attr("r", 14.5).attr("fill", "none").attr("stroke", "#96c11f").attr("stroke-width", 3);
svg.append("path").attr("d", "M733,159L739,165L750,154").attr("stroke", "#96c11f").attr("stroke-width", 3.2).attr("fill", "none");

// ---- maps ----
function makeProjection(deg, leftX, topY) {
  // deg = pixels per degree of longitude, leftX at 125W, topY at 49N
  var p = d3.geoMercator().scale(deg * 180 / Math.PI).translate([0, 0]);
  var origin = p([-125, 49]);
  return p.translate([leftX - origin[0], topY - origin[1]]);
}

function drawBase(g, panel, proj) {
  var closed = d3.line().x(function(d){ return proj(d)[0]; }).y(function(d){ return proj(d)[1]; }).curve(d3.curveLinearClosed);
  var open = d3.line().x(function(d){ return proj(d)[0]; }).y(function(d){ return proj(d)[1]; });
  g.append("rect").attr("x", panel.x).attr("y", panel.y).attr("width", panel.w).attr("height", panel.h).attr("fill", "#e2e2e2");
  g.selectAll(".water").data(waterAreas).join("path").attr("class", "water").attr("d", closed).attr("fill", "#fff");
  g.selectAll(".province").data(provinceLines).join("path").attr("class", "province").attr("d", open)
    .attr("fill", "none").attr("stroke", "#cfcfcf").attr("stroke-width", 0.7);
  return { closed: closed, open: open };
}

function addPanel(id, panel, card) {
  svg.append("rect").attr("x", card.x).attr("y", card.y).attr("width", card.w).attr("height", card.h)
    .attr("fill", "#fff").attr("filter", "url(#shade)");
  defs.append("clipPath").attr("id", id).append("rect")
    .attr("x", panel.x).attr("y", panel.y).attr("width", panel.w).attr("height", panel.h);
  return svg.append("g").attr("clip-path", "url(#" + id + ")").append("g").attr("filter", "url(#soft)");
}

function addCredits(g, panel, shiftX, mexicoX) {
  g.append("rect").attr("x", shiftX - 2).attr("y", panel.y + panel.h - 14).attr("width", 126).attr("height", 14)
    .attr("fill", "#fff").attr("fill-opacity", 0.75);
  g.append("text").attr("x", shiftX).attr("y", panel.y + panel.h - 4).text(attribution)
    .attr("font-family", "Liberation Sans, Arial, sans-serif").attr("font-size", 8).attr("fill", "#555");
  g.append("text").attr("x", mexicoX).attr("y", panel.y + panel.h + 1).text("Mexico")
    .attr("font-family", "Liberation Sans, Arial, sans-serif").attr("font-size", 10).attr("fill", "#8a8a8a");
}

// left card: winner by county
var leftPanel = { x: 91, y: 241, w: 379, h: 240 };
var leftG = addPanel("clipLeft", leftPanel, { x: 64, y: 204, w: 430, h: 293 });
var leftProj = makeProjection(6.19, 105, 276);
var leftPaths = drawBase(leftG, leftPanel, leftProj);

defs.append("clipPath").attr("id", "usLeft").append("path").attr("d", leftPaths.closed(usOutline));
leftG.append("path").attr("d", leftPaths.closed(usOutline)).attr("fill", "#ce2227");
leftG.append("g").attr("clip-path", "url(#usLeft)").selectAll("path").data(blueAreas).join("path")
  .attr("d", leftPaths.closed).attr("fill", "#1f6dad");
leftG.selectAll(".nodata").data(noDataAreas).join("path").attr("class", "nodata").attr("d", leftPaths.closed).attr("fill", "#f2e6e0");
leftG.append("g").attr("clip-path", "url(#usLeft)").selectAll("path").data(stateLines).join("path")
  .attr("d", leftPaths.open).attr("fill", "none").attr("stroke", "#f5d3d3").attr("stroke-width", 1);
leftG.append("path").attr("d", leftPaths.closed(usOutline)).attr("fill", "none").attr("stroke", "#fff").attr("stroke-width", 0.6).attr("stroke-opacity", 0.7);
addCredits(leftG, leftPanel, 96, 234);

// right card: circles by votes
var rightPanel = { x: 553, y: 256, w: 382, h: 231 };
var rightG = addPanel("clipRight", rightPanel, { x: 530, y: 204, w: 430, h: 293 });
var rightProj = makeProjection(5.9, 578, 290);
var rightPaths = drawBase(rightG, rightPanel, rightProj);

rightG.selectAll(".state").data(stateLines).join("path").attr("class", "state")
  .attr("d", rightPaths.open).attr("fill", "none").attr("stroke", "#d2d2d2").attr("stroke-width", 0.7);
rightG.selectAll(".border").data([canadaBorder, mexicoBorder]).join("path").attr("class", "border")
  .attr("d", rightPaths.open).attr("fill", "none").attr("stroke", "#a8a8a8").attr("stroke-width", 1);

var radius = d3.scaleSqrt().domain([0, 3400]).range([0, 10.6]);
var marginColor = d3.scaleLinear().domain(marginStops).range(marginColors);

var countyDots = [];
countyRows.forEach(function(row) {
  var votes = row[1] < -110 ? westVotes : (row[1] < -95 ? plainsVotes : eastVotes);
  row[2].split("").forEach(function(ch, i) {
    if (ch !== ".") {
      countyDots.push({ lon: row[1] + i * 0.5, lat: row[0], votes: votes[ch], margin: cellMargin[ch] });
    }
  });
});

defs.append("clipPath").attr("id", "usRight").append("path").attr("d", rightPaths.closed(usOutline));
rightG.append("g").attr("clip-path", "url(#usRight)").selectAll("circle").data(countyDots).join("circle")
  .attr("cx", function(d){ return rightProj([d.lon, d.lat])[0]; })
  .attr("cy", function(d){ return rightProj([d.lon, d.lat])[1]; })
  .attr("r", function(d){ return radius(d.votes); })
  .attr("fill", function(d){ return marginColor(d.margin); })
  .attr("fill-opacity", 0.7);

rightG.append("text").attr("x", 716).attr("y", 361).text("United")
  .attr("font-family", "Liberation Sans, Arial, sans-serif").attr("font-size", 10).attr("fill", "#8f8f8f").attr("letter-spacing", 0.5);
rightG.append("text").attr("x", 716).attr("y", 372).text("States")
  .attr("font-family", "Liberation Sans, Arial, sans-serif").attr("font-size", 10).attr("fill", "#8f8f8f").attr("letter-spacing", 0.5);

rightG.append("g").selectAll("circle").data(midCounties).join("circle")
  .attr("cx", function(d){ return rightProj([d[0], d[1]])[0]; })
  .attr("cy", function(d){ return rightProj([d[0], d[1]])[1]; })
  .attr("r", function(d){ return radius(d[2]); })
  .attr("fill", function(d){ return marginColor(d[3]); })
  .attr("fill-opacity", 0.5);

var sortedBig = bigCounties.slice().sort(function(a, b){ return b[2] - a[2]; });
rightG.append("g").selectAll("circle").data(sortedBig).join("circle")
  .attr("cx", function(d){ return rightProj([d[0], d[1]])[0]; })
  .attr("cy", function(d){ return rightProj([d[0], d[1]])[1]; })
  .attr("r", function(d){ return radius(d[2]); })
  .attr("fill", function(d){ return marginColor(d[3]); })
  .attr("fill-opacity", 0.68);

// legend
var grad = defs.append("linearGradient").attr("id", "marginGrad");
grad.selectAll("stop").data(marginStops).join("stop")
  .attr("offset", function(d){ return (d + 1) / 2; })
  .attr("stop-color", function(d, i){ return marginColors[i]; });
rightG.append("text").attr("x", 814).attr("y", 275).text(legendLabel)
  .attr("font-family", "Liberation Sans, Arial, sans-serif").attr("font-size", 8.9).attr("fill", "#555");
rightG.append("rect").attr("x", 814).attr("y", 278).attr("width", 95).attr("height", 11)
  .attr("fill", "url(#marginGrad)").attr("stroke", "#999").attr("stroke-width", 0.7);
rightG.append("line").attr("x1", 861.5).attr("x2", 861.5).attr("y1", 287).attr("y2", 290).attr("stroke", "#333");
addCredits(rightG, rightPanel, 558, 699);

// titles
var titleFont = "Lato, 'Open Sans', sans-serif";
svg.append("text").attr("x", 93).attr("y", 231).text(chartTitle)
  .attr("font-family", titleFont).attr("font-weight", 700).attr("font-size", 15.3).attr("fill", "#9f3a52");
svg.append("text").attr("x", 555).attr("y", 233).text(chartTitle)
  .attr("font-family", titleFont).attr("font-weight", 700).attr("font-size", 15.4).attr("fill", "#9f3a52");
svg.append("text").attr("x", 556).attr("y", 246).text(chartSubtitle)
  .attr("font-family", titleFont).attr("font-style", "italic").attr("font-size", 10.6).attr("letter-spacing", 0.2).attr("fill", "#c4708a");
</script>
</body>
</html>
